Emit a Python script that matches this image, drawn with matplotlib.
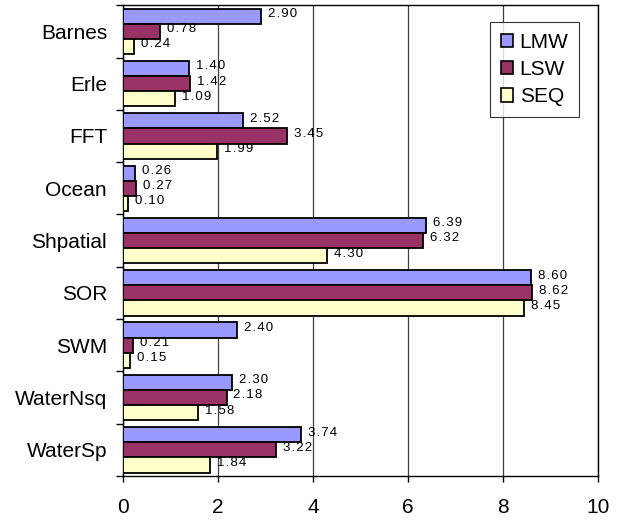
import numpy as np
import matplotlib.pyplot as plt
from matplotlib.patches import Patch

benchmarks = ["Barnes", "Erle", "FFT", "Ocean", "Shpatial", "SOR", "SWM", "WaterNsq", "WaterSp"]
lmw = [2.90, 1.40, 2.52, 0.26, 6.39, 8.60, 2.40, 2.30, 3.74]
lsw = [0.78, 1.42, 3.45, 0.27, 6.32, 8.62, 0.21, 2.18, 3.22]
seq = [0.24, 1.09, 1.99, 0.10, 4.30, 8.45, 0.15, 1.58, 1.84]

series = [("LMW", lmw, "#9999FF"), ("LSW", lsw, "#993366"), ("SEQ", seq, "#FFFFCC")]

plt.rcParams['font.family'] = ['Liberation Sans', 'DejaVu Sans']

fig = plt.figure(figsize=(6.34, 5.23), dpi=100)
ax = fig.add_axes([0.194, 0.090, 0.749, 0.900])

y = np.arange(len(benchmarks))
h = 0.29
for k, (name, vals, col) in enumerate(series):
    pos = y + (k - 1) * h
    ax.barh(pos, vals, height=h, color=col, edgecolor="black", linewidth=1.3, zorder=3)
    for p, v in zip(pos, vals):
        # spaced-out digits next to each bar end
        txt = "\u200a".join("%.2f" % v)
        ax.annotate(txt, (v, p), xytext=(5, 1.5), textcoords="offset points",
                    ha="left", va="center", fontsize=9.5, zorder=4)

ax.set_xlim(0, 10)
ax.set_ylim(len(benchmarks) - 0.5, -0.5)
ax.set_xticks(np.arange(0, 11, 2))
ax.tick_params(axis="x", direction="out", length=4, width=1, labelsize=15, pad=12)
ax.xaxis.grid(True, color="#404040", linewidth=0.9, zorder=0)

# tick marks between groups, names centred on each group
ax.set_yticks(np.arange(-0.5, len(benchmarks)), labels=[""] * (len(benchmarks) + 1))
ax.set_yticks(y, labels=benchmarks, minor=True)
ax.tick_params(axis="y", which="major", direction="out", length=5, width=1)
ax.tick_params(axis="y", which="minor", length=0, labelsize=15, pad=11.5)

for s in ax.spines.values():
    s.set_color("black")
    s.set_linewidth(1)

handles = [Patch(facecolor=c, edgecolor="black", linewidth=1.2, label=n) for n, _, c in series]
leg = ax.legend(handles=handles, loc="upper right", bbox_to_anchor=(0.96, 0.964),
                borderaxespad=0, fontsize=15, frameon=True, fancybox=False,
                handlelength=0.6, handleheight=0.6, handletextpad=0.3,
                labelspacing=0.4, borderpad=0.5)
leg.get_frame().set_edgecolor("black")
leg.get_frame().set_linewidth(0.8)

fig.savefig("out.png", dpi=100)
